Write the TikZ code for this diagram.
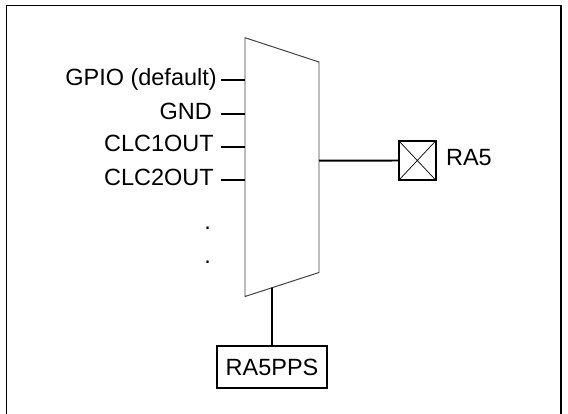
\documentclass[tikz,border=0pt]{standalone}
\usepackage{fontspec}
\setmainfont{Liberation Sans}
\usetikzlibrary{calc,positioning}

\begin{document}
\begin{tikzpicture}[x=0.025cm,y=-0.025cm]
    %
    \useasboundingbox (0,0) rectangle (568,414);
    \draw[line width=1.4pt] (6.5,420) -- (6.5,5.5) -- (561,5.5) -- (561,420);

    %
    \tikzset{lbl/.style={font=\fontsize{16.7}{20}\selectfont, inner sep=0pt, text height=0.716em, text depth=0pt},
             wire/.style={line width=1.4pt},
             muxline/.style={line width=0.7pt, black!75},
             pad/.style={draw, wire, inner sep=0pt, minimum width=0.925cm, minimum height=0.985cm,
                 path picture={\draw[line width=0.5pt] (path picture bounding box.north west) -- (path picture bounding box.south east)
                     (path picture bounding box.south west) -- (path picture bounding box.north east);}},
             reg/.style={draw, wire, font=\fontsize{16.7}{20}\selectfont, minimum width=2.75cm, minimum height=1.05cm}}

    %
    \coordinate (mtl) at (245,37.7);
    \coordinate (mtr) at (319,62);
    \coordinate (mbr) at (319,272.5);
    \coordinate (mbl) at (245,296.5);
    \draw[muxline] (mtl) -- (mtr) -- (mbr) -- (mbl) -- cycle;

    %
    \foreach \y/\xr/\txt [count=\i] in {80/217/GPIO (default), 114.3/212/GND, 146.7/214/CLC1OUT, 180.3/214/CLC2OUT} {
        \node[lbl, anchor=east] (in\i) at (\xr,\y) {\txt};
        \coordinate (w\i) at (221,\y);
        \draw[wire] (w\i) -- (w\i -| mtl);
    }

    %
    \node[lbl, anchor=base] (dot1) at (207.6,229.5) {.};
    \node[lbl, anchor=base] (dot2) at (207.6,263.5) {.};

    %
    \coordinate (mout) at (319,160.7);
    \node[pad] (pin) at (417.3,160.5) {};
    \node[lbl, right=0.225cm of pin] (pinlbl) {RA5};
    \draw[wire] (mout) -- (pin.west);

    %
    \coordinate (msel) at ($(mbl)!0.365!(mbr)$);
    \node[reg] (pps) at (272,367.3) {RA5PPS};
    \draw[wire] (pps.north) -- (msel);

\end{tikzpicture}
\end{document}
